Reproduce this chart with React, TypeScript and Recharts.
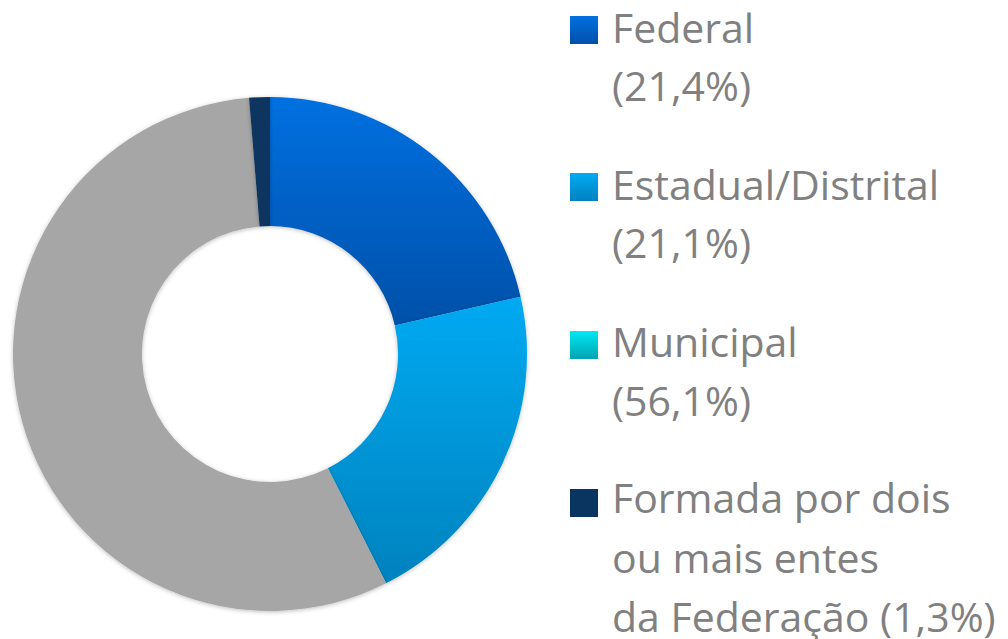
import React from 'react';
import { PieChart, Pie, Cell, Legend } from 'recharts';

const categories = ['Federal', 'Estadual/Distrital', 'Municipal', 'Formada por dois ou mais entes da Federação'];
const values = [21.4, 21.1, 56.1, 1.3];
const legendLines = [
  ['Federal', '(21,4%)'],
  ['Estadual/Distrital', '(21,1%)'],
  ['Municipal', '(56,1%)'],
  ['Formada por dois', 'ou mais entes', 'da Federação (1,3%)'],
];
const sliceFills = ['url(#gFederal)', 'url(#gEstadual)', '#A6A6A6', '#0B3561'];
const legendSwatches = [
  ['#0070E0', '#0050A8'],
  ['#00AAF2', '#0082BE'],
  ['#00EAF4', '#00A2B2'],
  ['#0B3561', '#0B3561'],
];

const data = categories.map((name, i) => ({ name, value: values[i] }));

const W = 1008;
const H = 639;

const LegendContent = () => {
  const squareTops = [16, 173, 331, 489];
  const baselines = [
    [43, 101],
    [200, 258],
    [357, 416],
    [513, 573, 632],
  ];
  return (
    <svg width={W} height={H} style={{ position: 'absolute', left: 0, top: 0 }}>
      <defs>
        {legendSwatches.map((c, i) => (
          <linearGradient key={i} id={`lg${i}`} x1="0" y1="0" x2="0" y2="1">
            <stop offset="0" stopColor={c[0]} />
            <stop offset="1" stopColor={c[1]} />
          </linearGradient>
        ))}
      </defs>
      {legendLines.map((lines, i) => (
        <g key={i}>
          <rect x={570} y={squareTops[i]} width={28} height={28} fill={`url(#lg${i})`} />
          {lines.map((t, j) => (
            <text
              key={j}
              x={612}
              y={baselines[i][j]}
              fill="#808080"
              fontFamily="'Open Sans', sans-serif"
              fontSize={41}
            >
              {t}
            </text>
          ))}
        </g>
      ))}
    </svg>
  );
};

export default function App() {
  return (
    <div style={{ position: 'absolute', left: 0, top: 0, width: W, height: H, background: '#fff' }}>
      <PieChart width={W} height={H} margin={{ top: 0, right: 0, bottom: 0, left: 0 }}>
        <defs>
          <linearGradient id="gFederal" x1="0" y1="0" x2="0" y2="1">
            <stop offset="0" stopColor="#0070E0" />
            <stop offset="1" stopColor="#0050A8" />
          </linearGradient>
          <linearGradient id="gEstadual" x1="0" y1="0" x2="0" y2="1">
            <stop offset="0" stopColor="#00AAF2" />
            <stop offset="1" stopColor="#0082BE" />
          </linearGradient>
          <filter id="softShadow" x="-10%" y="-10%" width="120%" height="120%">
            <feDropShadow dx="0" dy="1" stdDeviation="2" floodColor="#000" floodOpacity="0.25" />
          </filter>
        </defs>
        <Pie
          data={data}
          dataKey="value"
          nameKey="name"
          cx={270}
          cy={354}
          innerRadius={128}
          outerRadius={257}
          startAngle={90}
          endAngle={-270}
          stroke="none"
          isAnimationActive={false}
        >
          {data.map((d, i) => (
            <Cell key={d.name} fill={sliceFills[i]} filter="url(#softShadow)" />
          ))}
        </Pie>
        <Legend
          content={<LegendContent />}
          wrapperStyle={{ position: 'absolute', left: 0, top: 0, width: W, height: H, pointerEvents: 'none' }}
        />
      </PieChart>
    </div>
  );
}
